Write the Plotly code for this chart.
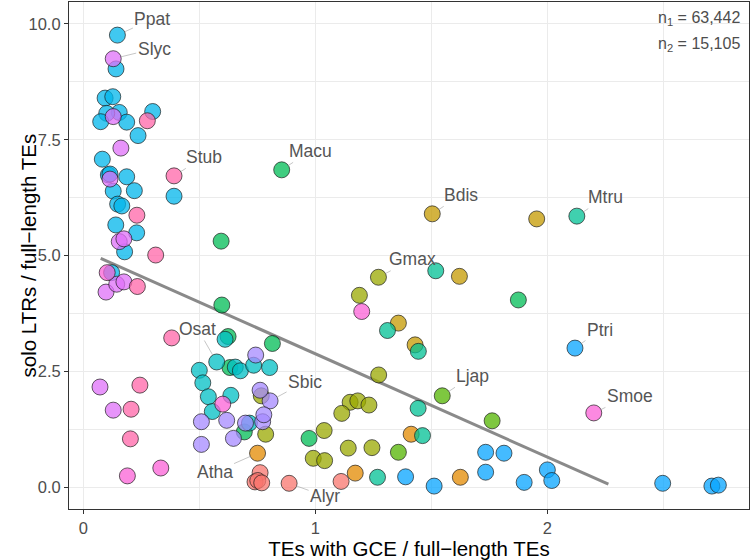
import plotly.graph_objects as go

# ---- data (first point of each species is the labelled one) ----
species = ["Alyr", "Atha", "Bdis", "Gmax", "Ljap", "Macu", "Mtru",
           "Osat", "Ppat", "Ptri", "Sbic", "Slyc", "Smoe", "Stub"]

alyr_x = [0.887, 0.762, 0.740, 0.752, 0.769, 1.111]
alyr_y = [0.08, 0.31, 0.11, 0.14, 0.09, 0.12]
atha_x = [0.751, 1.413, 1.172, 1.625]
atha_y = [0.73, 1.14, 0.30, 0.21]
bdis_x = [1.504, 1.954, 1.621, 1.358, 1.430]
bdis_y = [5.90, 5.79, 4.55, 3.54, 3.07]
gmax_x = [1.272, 1.190, 1.273, 1.150, 1.183, 1.231, 1.114, 1.038, 1.142, 1.244, 0.991, 1.040, 0.767, 0.786]
gmax_y = [4.53, 4.14, 2.42, 1.83, 1.86, 1.77, 1.59, 1.22, 0.84, 0.85, 0.62, 0.57, 1.97, 1.14]
ljap_x = [1.547, 1.762, 1.358]
ljap_y = [1.97, 1.43, 0.75]
macu_x = [0.855, 0.594, 0.597, 0.624, 0.815, 0.632, 0.694, 0.973, 1.875]
macu_y = [6.85, 5.31, 3.93, 3.25, 3.10, 2.58, 1.19, 1.05, 4.04]
mtru_x = [2.127, 1.519, 1.311, 1.444, 1.443, 1.462, 1.268]
mtru_y = [5.85, 4.67, 3.38, 2.93, 1.70, 1.11, 0.21]
osat_x = [0.575, 0.611, 0.500, 0.655, 0.677, 0.734, 0.803, 0.515, 0.539, 0.636, 0.556, 0.716]
osat_y = [2.70, 3.19, 2.52, 2.59, 2.51, 2.63, 2.58, 2.25, 1.95, 1.98, 1.63, 1.38]
ppat_x = [0.147, 0.141, 0.094, 0.127, 0.155, 0.101, 0.075, 0.187, 0.299, 0.236, 0.082, 0.108,
          0.115, 0.187, 0.129, 0.220, 0.391, 0.148, 0.166, 0.140, 0.230, 0.178, 0.122]
ppat_y = [9.76, 9.03, 8.40, 8.43, 8.09, 8.07, 7.89, 7.88, 8.11, 7.59, 7.08, 6.74,
          6.76, 6.70, 6.39, 6.40, 6.28, 6.11, 6.07, 5.66, 5.49, 5.08, 4.63]
ptri_x = [2.119, 1.389, 1.512, 1.734, 1.813, 1.734, 1.900, 2.000, 2.019, 2.497, 2.709, 2.737]
ptri_y = [3.00, 0.22, 0.02, 0.75, 0.73, 0.32, 0.10, 0.37, 0.14, 0.08, 0.02, 0.04]
sbic_x = [0.805, 0.743, 0.762, 0.509, 0.618, 0.699, 0.773, 0.778, 0.647, 0.509]
sbic_y = [1.86, 2.85, 2.09, 1.41, 1.44, 1.38, 1.41, 1.56, 1.05, 0.92]
slyc_x = [0.129, 0.129, 0.162, 0.115, 0.155, 0.175, 0.098, 0.144, 0.175, 0.072, 0.129]
slyc_y = [9.25, 8.00, 7.32, 6.65, 5.30, 5.36, 4.21, 4.38, 4.43, 2.16, 1.66]
smoe_x = [2.200, 0.190, 0.334, 0.103, 0.601, 1.200]
smoe_y = [1.60, 0.24, 0.41, 4.63, 1.79, 3.79]
stub_x = [0.391, 0.276, 0.231, 0.312, 0.233, 0.381, 0.244, 0.206, 0.203]
stub_y = [6.72, 7.91, 5.87, 5.01, 4.33, 3.22, 2.20, 1.68, 1.04]

fit_x = [0.075, 2.263]
fit_y = [4.94, 0.06]

n_labels = ["n<sub>1</sub> = 63,442", "n<sub>2</sub> = 15,105"]
x_ticks = [0, 1, 2]
y_ticks = [0.0, 2.5, 5.0, 7.5, 10.0]
x_title = "TEs with GCE / full\u2212length TEs"
y_title = "solo LTRs / full\u2212length TEs"

xs = [alyr_x, atha_x, bdis_x, gmax_x, ljap_x, macu_x, mtru_x,
      osat_x, ppat_x, ptri_x, sbic_x, slyc_x, smoe_x, stub_x]
ys = [alyr_y, atha_y, bdis_y, gmax_y, ljap_y, macu_y, mtru_y,
      osat_y, ppat_y, ptri_y, sbic_y, slyc_y, smoe_y, stub_y]

# ---- styling ----
palette = ["#F8766D", "#E38900", "#C49A00", "#99A800", "#53B400", "#00BC56", "#00C094",
           "#00BFC4", "#00B6EB", "#06A4FF", "#A58AFF", "#DF70F8", "#FB61D7", "#FF66A8"]
label_offsets = {
    "Ppat": (35, -16), "Slyc": (41, -10), "Stub": (30, -19), "Macu": (29, -19),
    "Bdis": (29, -19), "Mtru": (29, -19), "Gmax": (34, -18), "Ptri": (25, -18),
    "Ljap": (30, -20), "Smoe": (36, -17), "Osat": (-19, -33), "Sbic": (35, -19),
    "Atha": (-43, 19), "Alyr": (36, 13),
}
FONT = "Liberation Sans, Arial, sans-serif"


def rgba(h, a):
    h = h.lstrip("#")
    return "rgba(%d,%d,%d,%.2f)" % (int(h[0:2], 16), int(h[2:4], 16), int(h[4:6], 16), a)


fig = go.Figure()
fig.add_trace(go.Scatter(x=fit_x, y=fit_y, mode="lines",
                         line=dict(color="#8a8a8a", width=3), showlegend=False))

for sp, x, y, col in zip(species, xs, ys, palette):
    fig.add_trace(go.Scatter(
        x=x, y=y, mode="markers", name=sp, showlegend=False,
        marker=dict(size=16, color=rgba(col, 0.75),
                    line=dict(color="rgba(25,25,25,0.85)", width=0.8))))

annotations = []
for sp, x, y in zip(species, xs, ys):
    ax, ay = label_offsets[sp]
    annotations.append(dict(
        x=x[0], y=y[0], xref="x", yref="y", text=sp, showarrow=True,
        ax=ax, ay=ay, arrowhead=0, arrowwidth=0.6, arrowcolor="#a0a0a0",
        standoff=8, font=dict(family=FONT, size=17.5, color="#555555")))

for i, t in enumerate(n_labels):
    annotations.append(dict(
        x=0.99, y=0.968 - i * 0.052, xref="paper", yref="paper", text=t, showarrow=False,
        xanchor="right", yanchor="middle",
        font=dict(family=FONT, size=16, color="#4d4d4d")))

# y-axis title placed as a rotated annotation (closer to the axis, as in the reference)
annotations.append(dict(
    x=0, y=0.5, xref="paper", yref="paper", text=y_title, showarrow=False,
    textangle=-90, xanchor="center", yanchor="middle", xshift=-41,
    font=dict(family=FONT, size=20.5, color="black")))

axis_common = dict(
    showgrid=True, gridcolor="#EBEBEB", gridwidth=1.1, zeroline=False,
    showline=True, mirror=True, linecolor="#333333", linewidth=1.1,
    ticks="outside", ticklen=4, tickcolor="#333333", tickwidth=1.1,
    tickfont=dict(family=FONT, size=16.5, color="#4d4d4d"),
)

fig.update_layout(
    width=751, height=560,
    margin=dict(l=69, r=2, t=2, b=51),
    plot_bgcolor="white", paper_bgcolor="white",
    font=dict(family=FONT),
    annotations=annotations,
    xaxis=dict(range=[-0.0616, 2.869], tickvals=x_ticks, ticktext=[str(v) for v in x_ticks],
               minor=dict(showgrid=True, gridcolor="#EBEBEB", gridwidth=0.6, tickvals=[0.5, 1.5, 2.5], ticks=""),
               title=dict(text=x_title, standoff=3,
                          font=dict(size=20.5, color="black")),
               **axis_common),
    yaxis=dict(range=[-0.475, 10.475], tickvals=y_ticks, ticktext=["%.1f" % v for v in y_ticks],
               minor=dict(showgrid=True, gridcolor="#EBEBEB", gridwidth=0.6, tickvals=[1.25, 3.75, 6.25, 8.75], ticks=""),
               **axis_common),
)

fig.write_html("out.html", config={"displayModeBar": False},
               post_script="document.body.style.margin='0';document.body.style.padding='0';document.body.style.overflow='hidden';")
